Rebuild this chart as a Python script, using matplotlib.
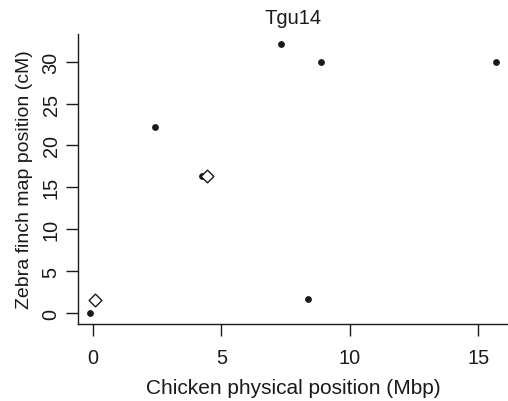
import matplotlib

matplotlib.use("Agg")
import matplotlib.pyplot as plt

# marker positions
dot_x = [-0.12, 2.40, 4.23, 7.31, 8.87, 8.37, 15.67]
dot_y = [0.0, 22.2, 16.4, 32.1, 30.0, 1.67, 30.0]
diamond_x = [0.10, 4.42]
diamond_y = [1.55, 16.4]

x_ticks = [0, 5, 10, 15]
y_ticks = [0, 5, 10, 15, 20, 25, 30]

plt.rcParams["font.family"] = ["Liberation Sans", "DejaVu Sans"]
ink = "#1a1a1a"

W, H = 508, 402
fig = plt.figure(figsize=(W / 100, H / 100), dpi=100)
ax = fig.add_axes([78 / W, (H - 325) / H, (W - 78) / W, (325 - 35) / H])

ax.scatter(dot_x, dot_y, s=15, color=ink, zorder=3, clip_on=False)
ax.scatter(diamond_x, diamond_y, marker="D", s=42, facecolor="white",
           edgecolor=ink, linewidth=1.0, zorder=4, clip_on=False)

ax.set_xlim(-0.58, 16.15)
ax.set_ylim(-1.31, 33.3)
ax.set_xticks(x_ticks)
ax.set_yticks(y_ticks)
ax.set_yticklabels([str(v) for v in y_ticks], rotation=90, va="center")

for side in ("top", "right"):
    ax.spines[side].set_visible(False)
for side in ("left", "bottom"):
    ax.spines[side].set_color(ink)
    ax.spines[side].set_linewidth(1.0)

ax.tick_params(direction="out", length=8.5, width=1.0, color=ink,
               labelsize=14.3, labelcolor=ink)
ax.tick_params(axis="x", pad=8.5)
ax.tick_params(axis="y", pad=4)

ax.set_xlabel("Chicken physical position (Mbp)", fontsize=15, color=ink, labelpad=8)
ax.set_ylabel("Zebra finch map position (cM)", fontsize=14, color=ink, labelpad=6)
ax.set_title("Tgu14", fontsize=14.5, color=ink, pad=8)

fig.savefig("out.png", dpi=100)
